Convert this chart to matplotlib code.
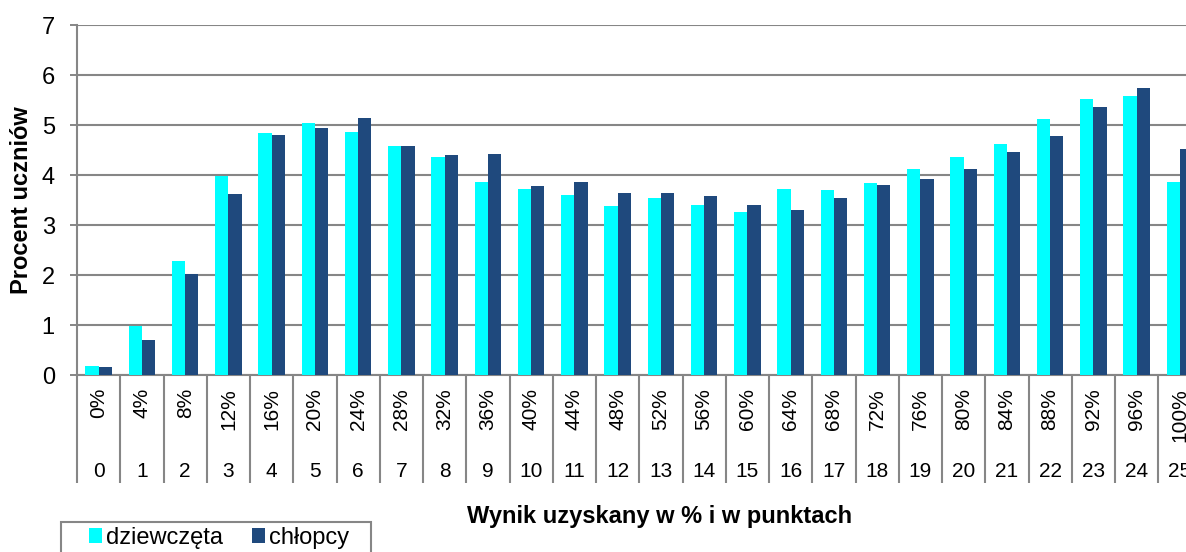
import numpy as np
import matplotlib
matplotlib.use("Agg")
import matplotlib.pyplot as plt
from matplotlib.patches import Rectangle

plt.rcParams["font.family"] = ["Liberation Sans", "DejaVu Sans"]

# === dane ===
punkty = list(range(26))
procenty = [f"{p * 4}%" for p in punkty]
dziewczeta = [0.19, 0.98, 2.28, 3.99, 4.85, 5.05, 4.87, 4.58, 4.36, 3.87,
              3.72, 3.60, 3.39, 3.54, 3.40, 3.26, 3.72, 3.70, 3.85, 4.11,
              4.36, 4.63, 5.11, 5.53, 5.59, 3.87]
chlopcy = [0.17, 0.71, 2.03, 3.63, 4.81, 4.94, 5.14, 4.58, 4.40, 4.43,
           3.79, 3.87, 3.65, 3.64, 3.59, 3.40, 3.30, 3.54, 3.81, 3.93,
           4.11, 4.47, 4.79, 5.37, 5.75, 4.53]

# === wymiary w pikselach ===
W, H = 1186, 552
grey = "#868686"
c_dz = "#00FFFF"
c_ch = "#1F497D"

fig = plt.figure(figsize=(W / 100, H / 100), dpi=100)
ax = fig.add_axes([77 / W, (H - 375) / H, 26 * 43.25 / W, 350 / H])

x = np.arange(len(punkty))
bw = 0.307
ax.bar(x - bw / 2, dziewczeta, bw, color=c_dz, label="dziewczęta", zorder=3)
ax.bar(x + bw / 2, chlopcy, bw, color=c_ch, label="chłopcy", zorder=3)

ax.set_xlim(-0.5, 25.5)
ax.set_ylim(0, 7)
ax.set_yticks(range(8))
ax.yaxis.grid(True, color=grey, linewidth=1.5, zorder=0)

for s in ["top", "right"]:
    ax.spines[s].set_visible(False)
for s in ["left", "bottom"]:
    ax.spines[s].set_color(grey)
    ax.spines[s].set_linewidth(1.5)

ax.tick_params(axis="y", direction="out", length=5, width=1.4, color=grey,
               labelsize=17, pad=11)

# === os X: dwa poziomy kategorii ===
ax.set_xticks(x)
ax.set_xticklabels([])
ax.tick_params(axis="x", which="major", length=0)
ax.set_xticks(np.arange(-0.5, 26, 1), minor=True)
ax.tick_params(axis="x", which="minor", direction="out", length=78,
               width=1.5, color=grey)

tr = ax.get_xaxis_transform()
for i in x:
    ax.text(i, -0.037, procenty[i], transform=tr, rotation=90, ha="center",
            va="top", fontsize=15, clip_on=False)
    ax.text(i, -0.291, str(punkty[i]), transform=tr, ha="center",
            va="baseline", fontsize=15, clip_on=False)

fig.text(22 / W, 1 - 200 / H, "Procent uczniów", rotation=90, ha="center",
         va="center", fontsize=17, fontweight="bold")
fig.text(660 / W, 1 - 516 / H, "Wynik uzyskany w % i w punktach",
         ha="center", va="center", fontsize=17, fontweight="bold")

# === legenda (ramka rysowana osobno, pod osiami) ===
fig.add_artist(Rectangle((61 / W, -0.01), 310 / W, 1.01 - 522 / H,
                         transform=fig.transFigure, facecolor="white",
                         edgecolor=grey, linewidth=1.5, zorder=-1))
leg = ax.legend(loc="center left", bbox_to_anchor=(89 / W, 1 - 538 / H),
                bbox_transform=fig.transFigure, ncol=2, fontsize=17,
                frameon=False, handlelength=0.56, handleheight=0.56,
                handletextpad=0.17, columnspacing=1.22,
                borderpad=0, borderaxespad=0)

fig.savefig("out.png", dpi=100)
